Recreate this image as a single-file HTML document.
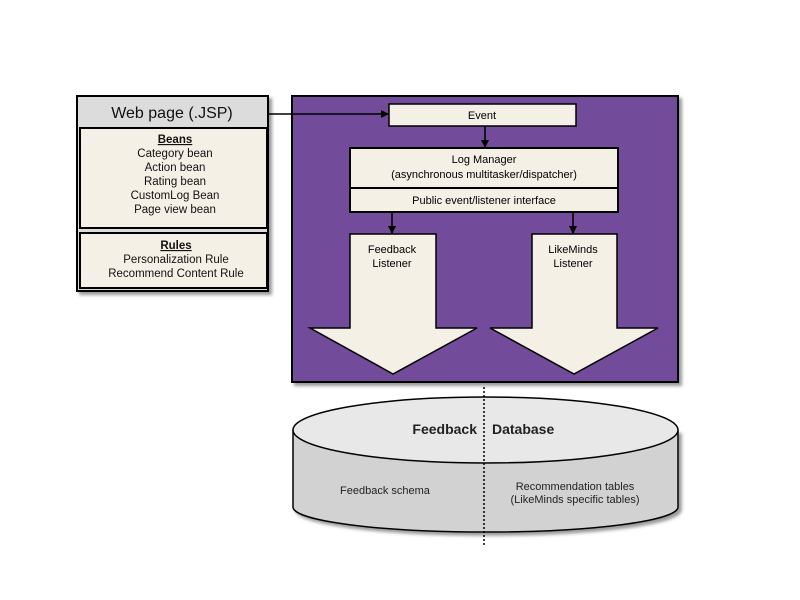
<!DOCTYPE html>
<html><head><style>body{margin:0;background:#fff}svg{display:block}</style></head><body>
<svg width="800" height="600" viewBox="0 0 800 600" xmlns="http://www.w3.org/2000/svg" font-family="Liberation Sans, Arial, sans-serif">
<defs>
<filter id="sh" x="-5%" y="-5%" width="115%" height="115%"><feDropShadow dx="3" dy="3" stdDeviation="1.5" flood-color="#555" flood-opacity="0.6"/></filter>
<marker id="ah" markerWidth="8" markerHeight="8" refX="7" refY="4" orient="auto" markerUnits="userSpaceOnUse"><path d="M0,0 L8,4 L0,8 z" fill="#000"/></marker>
</defs>
<!-- left box -->
<rect x="77" y="96" width="191" height="195" fill="#dcdcdc" stroke="#000" stroke-width="2" filter="url(#sh)"/>
<text x="172" y="118" font-size="16" text-anchor="middle" fill="#111">Web page (.JSP)</text>
<rect x="80" y="128" width="187" height="100" fill="#f5f0e6" stroke="#000" stroke-width="2"/>
<g font-size="11.5" text-anchor="middle" fill="#111">
<text x="175" y="143" font-weight="bold" text-decoration="underline">Beans</text>
<text x="175" y="157">Category bean</text>
<text x="175" y="171">Action bean</text>
<text x="175" y="185">Rating bean</text>
<text x="175" y="199">CustomLog Bean</text>
<text x="175" y="213">Page view bean</text>
</g>
<rect x="80" y="233" width="187" height="55" fill="#f5f0e6" stroke="#000" stroke-width="2"/>
<g font-size="11.5" text-anchor="middle" fill="#111">
<text x="176" y="249" font-weight="bold" text-decoration="underline">Rules</text>
<text x="176" y="263">Personalization Rule</text>
<text x="176" y="277">Recommend Content Rule</text>
</g>
<!-- purple -->
<rect x="292" y="96" width="386" height="286" fill="#724c9a" stroke="#000" stroke-width="2" filter="url(#sh)"/>
<line x1="268" y1="114" x2="388" y2="114" stroke="#000" stroke-width="1.5" marker-end="url(#ah)"/>
<rect x="389" y="104" width="187" height="22" fill="#f5f0e6" stroke="#000" stroke-width="1.5"/>
<text x="482" y="119" font-size="11" text-anchor="middle">Event</text>
<line x1="485" y1="126" x2="485" y2="147" stroke="#000" stroke-width="1.5" marker-end="url(#ah)"/>
<rect x="350" y="148" width="268" height="64" fill="#f5f0e6" stroke="#000" stroke-width="2"/>
<line x1="350" y1="188" x2="618" y2="188" stroke="#000" stroke-width="2"/>
<g font-size="11" text-anchor="middle">
<text x="484" y="163">Log Manager</text>
<text x="484" y="178">(asynchronous multitasker/dispatcher)</text>
<text x="484" y="204">Public event/listener interface</text>
</g>
<line x1="392" y1="212" x2="392" y2="233" stroke="#000" stroke-width="1.5" marker-end="url(#ah)"/>
<line x1="573" y1="212" x2="573" y2="233" stroke="#000" stroke-width="1.5" marker-end="url(#ah)"/>
<path d="M350,234 L436,234 L436,328 L477,328 L393,374 L310,328 L350,328 Z" fill="#f5f0e6" stroke="#000" stroke-width="1.5"/>
<path d="M532,234 L617,234 L617,328 L658,328 L574,374 L490,328 L532,328 Z" fill="#f5f0e6" stroke="#000" stroke-width="1.5"/>
<g font-size="11" text-anchor="middle">
<text x="392" y="253">Feedback</text>
<text x="392" y="267">Listener</text>
<text x="573" y="253">LikeMinds</text>
<text x="573" y="267">Listener</text>
</g>
<!-- cylinder -->
<path d="M293,430 L293,507 A192,25 0 0 0 678,507 L678,430" fill="#d2d2d2" stroke="#000" stroke-width="1.5" filter="url(#sh)"/>
<ellipse cx="485.5" cy="430" rx="192.5" ry="33" fill="#e8e8e8" stroke="#000" stroke-width="1.5"/>
<line x1="484" y1="387" x2="484" y2="545" stroke="#000" stroke-width="1.5" stroke-dasharray="2,2"/>
<text x="477" y="434" font-size="14" font-weight="bold" text-anchor="end" fill="#222">Feedback</text>
<text x="492" y="434" font-size="14" font-weight="bold" fill="#222">Database</text>
<text x="385" y="494" font-size="11" text-anchor="middle" fill="#222">Feedback schema</text>
<text x="575" y="490" font-size="11" text-anchor="middle" fill="#222">Recommendation tables</text>
<text x="575" y="503" font-size="11" text-anchor="middle" fill="#222">(LikeMinds specific tables)</text>
</svg>
</body></html>
